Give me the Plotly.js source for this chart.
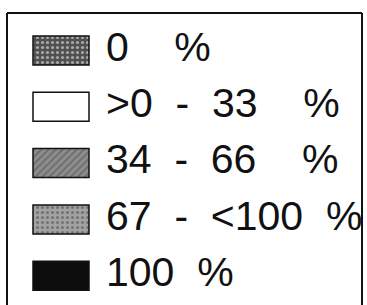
<!DOCTYPE html>
<html>
<head>
<meta charset="utf-8">
<script src="https://cdn.plot.ly/plotly-3.0.1.min.js"></script>
<style>html,body{margin:0;padding:0;background:#fff;}#chart{width:367px;height:305px;}</style>
</head>
<body>
<div id="chart"></div>
<script>
// Legend classes (share of area)
var categories = ["0 %", ">0 - 33 %", "34 - 66 %", "67 - <100 %", "100 %"];
var labels = [
  "0\u00a0\u00a0\u00a0\u00a0%",
  ">0\u00a0\u00a0-\u00a0\u00a033\u00a0\u00a0\u00a0\u00a0%",
  "34\u00a0\u00a0-\u00a0\u00a066\u00a0\u00a0\u00a0\u00a0%",
  "67\u00a0\u00a0-\u00a0\u00a0<100\u00a0\u00a0%",
  "100\u00a0\u00a0%"
];
var fillColors = ["#505050", "#ffffff", "#8c8c8c", "#a2a2a2", "#0c0c0c"];
var patternShapes = [".", "", "/", ".", ""];
var patternFg = ["#2a2a2a", "#ffffff", "#3a3a3a", "#6a6a6a", "#0c0c0c"];

var swatchWidth = categories.map(function(){ return 56; });

var bars = {
  type: "bar",
  orientation: "h",
  y: categories,
  x: swatchWidth,
  base: 33,
  width: 0.515,
  marker: {
    color: fillColors,
    line: {color: "#111", width: 1.5},
    pattern: {shape: patternShapes, fgcolor: patternFg, fillmode: "overlay", size: 5, solidity: 0.3}
  },
  hoverinfo: "skip",
  showlegend: false
};

var texts = {
  type: "scatter",
  mode: "text",
  y: categories,
  x: categories.map(function(){ return 106; }),
  text: labels,
  textposition: "middle right",
  textfont: {family: "Liberation Sans, Arial, sans-serif", size: 41, color: "#111"},
  hoverinfo: "skip",
  showlegend: false
};

var layout = {
  width: 367, height: 305,
  margin: {l: 0, r: 0, t: 0, b: 0},
  paper_bgcolor: "#fff", plot_bgcolor: "#fff",
  xaxis: {range: [0, 367], visible: false, fixedrange: true},
  yaxis: {type: "category", categoryorder: "array", categoryarray: categories,
          range: [4.52, -0.895], visible: false, fixedrange: true},
  shapes: [
    {type: "line", xref: "paper", yref: "paper", x0: 7/367, x1: 7/367, y0: 0, y1: 1 - 13/305, line: {color: "#111", width: 2}},
    {type: "line", xref: "paper", yref: "paper", x0: 7/367, x1: 362/367, y0: 1 - 13/305, y1: 1 - 13/305, line: {color: "#111", width: 2}},
    {type: "line", xref: "paper", yref: "paper", x0: 362/367, x1: 362/367, y0: 0, y1: 1 - 13/305, line: {color: "#111", width: 2}}
  ],
  showlegend: false
};

Plotly.newPlot("chart", [bars, texts], layout, {displayModeBar: false, staticPlot: true});
</script>
</body>
</html>
